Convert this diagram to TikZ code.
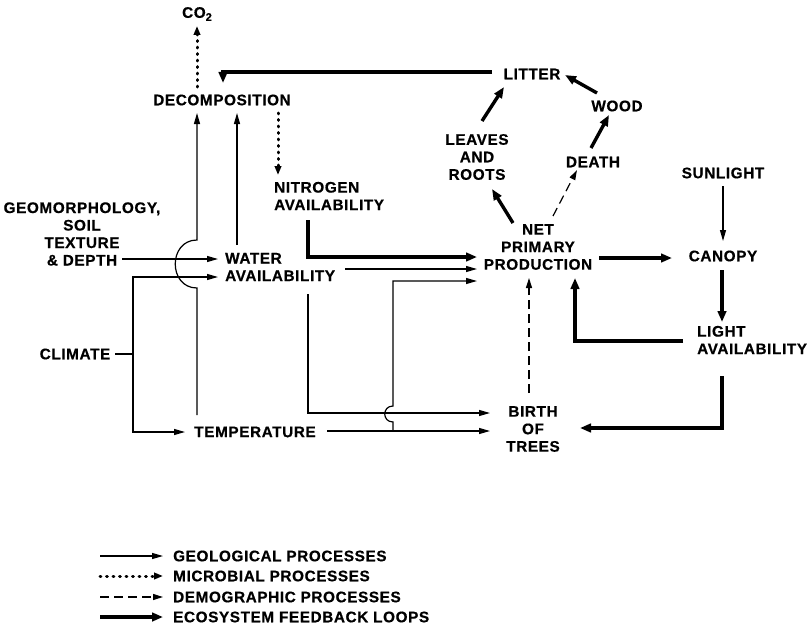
\documentclass[tikz,border=0pt]{standalone}
\usepackage{fontspec}
\setmainfont{Liberation Sans}[LetterSpace=4, BoldFeatures={FakeBold=0.6}]
\usetikzlibrary{arrows.meta}
\begin{document}
\begin{tikzpicture}[x=1pt,y=-1pt,
  lbl/.style={inner sep=0pt, font=\fontsize{15.3}{17.5}\selectfont\bfseries},
  geol/.style={draw, line width=1.2pt, -{Triangle[length=11pt,width=6pt]}},
  micro/.style={draw, line width=3pt, line cap=round, dash pattern=on 0.8pt off 5.7pt, -{Triangle[length=9pt,width=6.5pt]}},
  demo/.style={draw, line width=1.2pt, dash pattern=on 9pt off 5pt, -{Triangle[length=10pt,width=6pt]}},
  feed/.style={draw, line width=3.4pt, -{Triangle[length=11pt,width=8.5pt]}},
  plain/.style={draw, line width=1.2pt}]
\useasboundingbox (0,0) rectangle (811,626);

% nodes
\node[lbl] (co2) at (197,14) {CO{\fontsize{11}{11}\selectfont\raisebox{-3pt}{2}}};
\node[lbl] (decomp) at (222,100) {DECOMPOSITION};
\node[lbl, align=left, anchor=west] (nitro) at (274,196) {NITROGEN\\AVAILABILITY};
\node[lbl, align=left, anchor=west] (water) at (225,267) {WATER\\AVAILABILITY};
\node[lbl, align=center] (geo) at (82,234) {GEOMORPHOLOGY,\\SOIL\\TEXTURE\\\& DEPTH};
\node[lbl] (climate) at (75,354) {CLIMATE};
\node[lbl] (temp) at (255,432) {TEMPERATURE};
\node[lbl, align=center] (npp) at (538,247) {NET\\PRIMARY\\PRODUCTION};
\node[lbl, align=center] (leaves) at (477,157) {LEAVES\\AND\\ROOTS};
\node[lbl] (litter) at (532,74) {LITTER};
\node[lbl] (death) at (593,162) {DEATH};
\node[lbl] (wood) at (617,106) {WOOD};
\node[lbl] (sun) at (723,173) {SUNLIGHT};
\node[lbl] (canopy) at (723,256) {CANOPY};
\node[lbl, align=left, anchor=west] (light) at (697,340) {LIGHT\\AVAILABILITY};
\node[lbl, align=center] (birth) at (533,429) {BIRTH\\OF\\TREES};

% connectors
\draw[micro] ([shift={(-25,-13)}]decomp.center) -- ([shift={(0,12)}]co2.center);
\draw[feed] ([shift={(-40,-2)}]litter.center) -| ([shift={(1,-17)}]decomp.center);
\draw[micro] ([shift={(56,13)}]decomp.center) -- ([shift={(4,-21)}]nitro.west);
\draw[geol] ([shift={(-58,-17)}]temp.center) -- ([shift={(-25,188)}]decomp.center)
   .. controls +(-29,0) and +(-29,0) .. ([shift={(-25,140)}]decomp.center)
   -- ([shift={(-25,13)}]decomp.center);
\draw[geol] ([shift={(12,-22)}]water.west) -- ([shift={(15,13)}]decomp.center);
\draw[geol] ([shift={(40,25)}]geo.center) -- ([shift={(-7,-8)}]water.west);
\draw[plain] ([shift={(40,0)}]climate.center) -- ++(18,0) coordinate (cj);
\draw[geol] (cj) |- ([shift={(-7,10)}]water.west);
\draw[geol] (cj) |- ([shift={(-70,0)}]temp.center);
\draw[feed] ([shift={(34,24)}]nitro.west) |- ([shift={(-61,10)}]npp.center);
\draw[geol] ([shift={(120,2)}]water.west) -- ([shift={(-61,22)}]npp.center);
\draw[geol] ([shift={(138,-1)}]temp.center) -- ([shift={(138,-10)}]temp.center)
   .. controls +(-11,0) and +(-11,0) .. ([shift={(138,-26)}]temp.center)
   |- ([shift={(-61,34)}]npp.center);
\draw[geol] ([shift={(83,27)}]water.west) |- ([shift={(-43,-16)}]birth.center);
\draw[geol] ([shift={(72,-1)}]temp.center) -- ([shift={(-43,2)}]birth.center);
\draw[feed] ([shift={(-25,-24)}]npp.center) -- ([shift={(15,32)}]leaves.center);
\draw[feed] ([shift={(5,-36)}]leaves.center) -- ([shift={(-28,13)}]litter.center);
\draw[demo] ([shift={(15,-31)}]npp.center) -- ([shift={(-16,8)}]death.center);
\draw[feed] ([shift={(-2,-14)}]death.center) -- ([shift={(-8,9)}]wood.center);
\draw[feed] ([shift={(-20,-13)}]wood.center) -- ([shift={(33,1)}]litter.center);
\draw[feed] ([shift={(61,11)}]npp.center) -- ([shift={(-51,2)}]canopy.center);
\draw[geol] ([shift={(0,13)}]sun.center) -- ([shift={(0,-15)}]canopy.center);
\draw[feed] ([shift={(-1,14)}]canopy.center) -- ([shift={(25,-18)}]light.west);
\draw[feed] ([shift={(-14,1)}]light.west) -| ([shift={(37,31)}]npp.center);
\draw[feed] ([shift={(25,36)}]light.west) |- ([shift={(47,-1)}]birth.center);
\draw[demo] ([shift={(-4,-36)}]birth.center) -- ([shift={(-9,31)}]npp.center);

% legend
\node[lbl, anchor=west] (lg1) at (173,556) {GEOLOGICAL PROCESSES};
\node[lbl, anchor=west] (lg2) at (173,576) {MICROBIAL PROCESSES};
\node[lbl, anchor=west] (lg3) at (173,597) {DEMOGRAPHIC PROCESSES};
\node[lbl, anchor=west] (lg4) at (173,617) {ECOSYSTEM FEEDBACK LOOPS};
\coordinate (ls1) at (100,556);
\coordinate (ls2) at (100,576);
\coordinate (ls3) at (100,597);
\coordinate (ls4) at (100,617);
\draw[geol] (ls1) -- ([xshift=-10pt]lg1.west);
\draw[micro] (ls2) -- ([xshift=-10pt]lg2.west);
\draw[demo] (ls3) -- ([xshift=-10pt]lg3.west);
\draw[feed] (ls4) -- ([xshift=-10pt]lg4.west);
\end{tikzpicture}
\end{document}
